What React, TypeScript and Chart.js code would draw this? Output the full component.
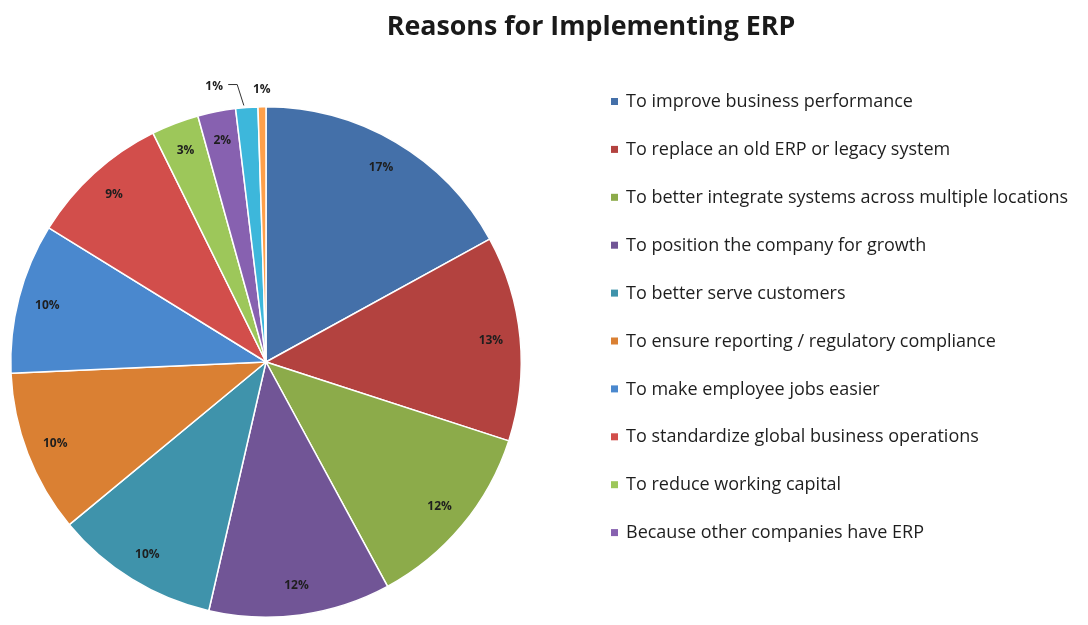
import React, { useEffect, useRef } from "react";
import { Chart, registerables } from "chart.js";

Chart.register(...registerables);

const chartTitle = "Reasons for Implementing ERP";

const categories = [
  "To improve business performance",
  "To replace an old ERP or legacy system",
  "To better integrate systems across multiple locations",
  "To position the company for growth",
  "To better serve customers",
  "To ensure reporting / regulatory compliance",
  "To make employee jobs easier",
  "To standardize global business operations",
  "To reduce working capital",
  "Because other companies have ERP",
  "Other (unlisted)",
  "Other (unlisted, 2)",
];

// share of respondents, in percent
const values = [17, 13, 12.1, 11.5, 10.4, 10.3, 9.5, 8.9, 3.0, 2.4, 1.4, 0.5];

const colors = [
  "#4470A9",
  "#B3423F",
  "#8CAB4A",
  "#715596",
  "#3F93AB",
  "#DA8033",
  "#4A88CE",
  "#D24E4B",
  "#9DC75A",
  "#8761B0",
  "#3DB7DB",
  "#FFA04A",
];

const legendCount = 10;

const overlayPlugin = {
  id: "overlay",
  afterDraw(chart: any) {
    const ctx = chart.ctx;
    ctx.save();
    // title
    ctx.fillStyle = "#1a1a1a";
    ctx.font = "bold 26.8px 'Open Sans'";
    ctx.textAlign = "center";
    ctx.textBaseline = "middle";
    ctx.fillText(chartTitle, 591, 27);

    // slice labels
    const meta = chart.getDatasetMeta(0);
    const total = values.reduce((a, b) => a + b, 0);
    ctx.font = "bold 12px 'Open Sans'";
    ctx.fillStyle = "#1e1e1e";
    ctx.strokeStyle = "#333";
    ctx.lineWidth = 1;
    meta.data.forEach((arc: any, i: number) => {
      const p = arc.getProps(["x", "y", "startAngle", "endAngle", "outerRadius"], true);
      const mid = (p.startAngle + p.endAngle) / 2;
      const pct = (values[i] / total) * 100;
      const txt = Math.round(pct + 1e-9) + "%";
      if (pct >= 2) {
        const r = p.outerRadius * 0.885;
        ctx.fillText(txt, p.x + Math.cos(mid) * r, p.y + Math.sin(mid) * r);
      } else if (i === meta.data.length - 1) {
        const r = p.outerRadius + 17;
        ctx.fillText(txt, p.x + Math.cos(mid) * r, p.y + Math.sin(mid) * r);
      } else {
        const r = p.outerRadius + 21;
        const ax = p.x + Math.cos(mid) * (p.outerRadius - 1);
        const ay = p.y + Math.sin(mid) * (p.outerRadius - 1);
        const lx = p.x + Math.cos(mid) * r - 31;
        const ly = p.y + Math.sin(mid) * r;
        ctx.fillText(txt, lx, ly);
        ctx.beginPath();
        ctx.moveTo(lx + 14, ly - 2);
        ctx.lineTo(lx + 23, ly - 2);
        ctx.lineTo(ax - 3, ay - 3);
        ctx.stroke();
      }
    });

    // legend
    ctx.textAlign = "left";
    ctx.textBaseline = "middle";
    ctx.font = "18px 'Open Sans'";
    for (let i = 0; i < legendCount; i++) {
      const y = 102 + i * 47.9;
      ctx.fillStyle = colors[i];
      ctx.fillRect(611, y - 4, 7, 7);
      ctx.fillStyle = "#1e1e1e";
      ctx.fillText(categories[i], 626, y);
    }
    ctx.restore();
  },
};

export default function App() {
  const ref = useRef<HTMLCanvasElement>(null);
  useEffect(() => {
    if (!ref.current) return;
    const chart = new Chart(ref.current, {
      type: "pie",
      data: {
        labels: categories,
        datasets: [
          {
            data: values,
            backgroundColor: colors,
            borderColor: "#ffffff",
            borderWidth: 1.5,
          },
        ],
      },
      options: {
        responsive: false,
        animation: false,
        layout: { padding: { left: 10, top: 106, right: 566, bottom: 7 } },
        plugins: {
          legend: { display: false },
          title: { display: false },
          tooltip: { enabled: false },
        },
      },
      plugins: [overlayPlugin],
    });
    return () => chart.destroy();
  }, []);
  return (
    <div style={{ position: "fixed", left: 0, top: 0, width: 1088, height: 625, background: "#fff" }}>
      <canvas ref={ref} width={1088} height={625} style={{ width: 1088, height: 625 }} />
    </div>
  );
}
